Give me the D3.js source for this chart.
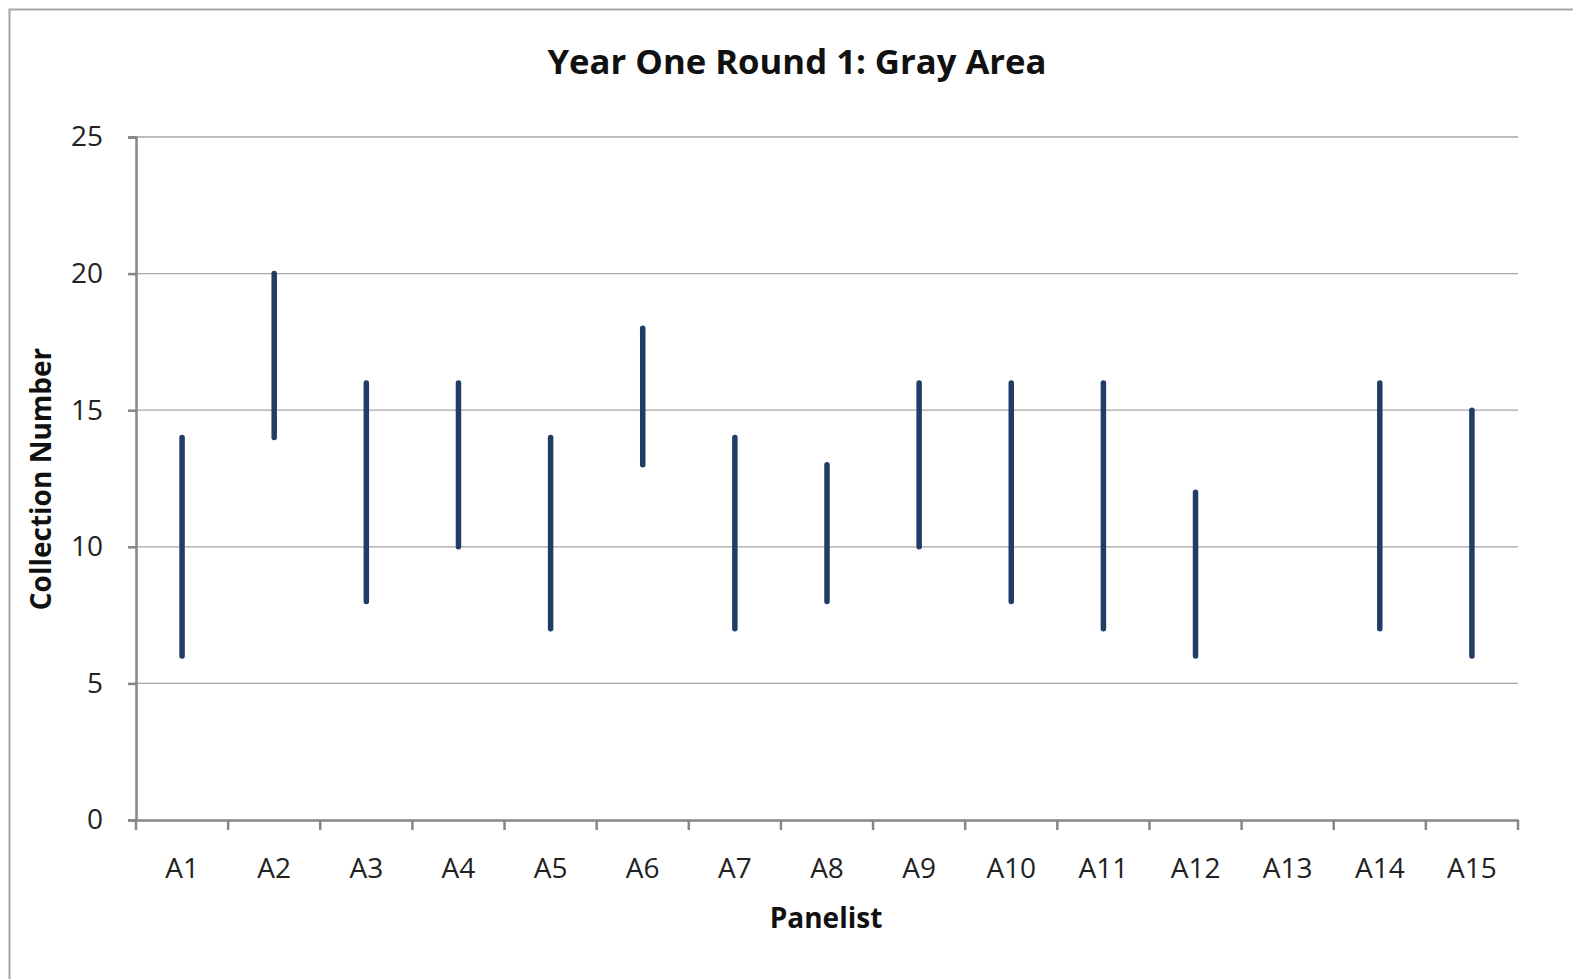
<!DOCTYPE html>
<html><head><meta charset="utf-8">
<script src="https://cdn.jsdelivr.net/npm/d3@7"></script>
<style>body{margin:0;background:#fff;font-family:"Open Sans",sans-serif}</style>
</head><body>
<svg id="c" width="1573" height="979"></svg>
<script>
const categories = ["A1","A2","A3","A4","A5","A6","A7","A8","A9","A10","A11","A12","A13","A14","A15"];
const lowValues  = [6, 14, 8, 10, 7, 13, 7, 8, 10, 8, 7, 6, null, 7, 6];
const highValues = [14, 20, 16, 16, 14, 18, 14, 13, 16, 16, 16, 12, null, 16, 15];
const yTicks = [0, 5, 10, 15, 20, 25];

const svg = d3.select("#c");
svg.append("rect").attr("x",9.5).attr("y",9.5).attr("width",1600).attr("height",1000)
  .attr("fill","#fff").attr("stroke","#a6a6a6").attr("stroke-width",2);

const m = {l:136, r:1518, t:137, b:820};
const x = d3.scaleBand().domain(categories).range([m.l, m.r]);
const y = d3.scaleLinear().domain([0,25]).range([m.b, m.t]);

// gridlines
svg.append("g").selectAll("line").data(yTicks.filter(d=>d>0)).join("line")
  .attr("x1",m.l).attr("x2",m.r).attr("y1",d=>y(d)).attr("y2",d=>y(d))
  .attr("stroke","#a6a6a6").attr("stroke-width",1.3);

// y axis
const ya = svg.append("g").attr("transform",`translate(${m.l},0)`)
  .call(d3.axisLeft(y).tickValues(yTicks).tickSize(8).tickPadding(25));
ya.select(".domain").attr("stroke","#868686").attr("stroke-width",2.5);
ya.selectAll(".tick line").attr("stroke","#868686").attr("stroke-width",2.5);
ya.selectAll("text").attr("font-family","Open Sans").attr("font-size",28).attr("fill","#222");

// x axis
const xa = svg.append("g").attr("transform",`translate(0,${m.b})`)
  .call(d3.axisBottom(x).tickSize(0).tickPadding(38));
xa.select(".domain").attr("stroke","#868686").attr("stroke-width",2.5);
xa.selectAll("text").attr("font-family","Open Sans").attr("font-size",28).attr("fill","#222");
const bounds = categories.map(c=>x(c)).concat([m.r]);
xa.append("g").selectAll("line").data(bounds).join("line")
  .attr("x1",d=>d).attr("x2",d=>d).attr("y1",0).attr("y2",10)
  .attr("stroke","#868686").attr("stroke-width",2.5);

// bars
const data = categories.map((c,i)=>({c, lo:lowValues[i], hi:highValues[i]})).filter(d=>d.lo!=null);
svg.append("g").selectAll("line").data(data).join("line")
  .attr("x1",d=>x(d.c)+x.bandwidth()/2).attr("x2",d=>x(d.c)+x.bandwidth()/2)
  .attr("y1",d=>y(d.lo)).attr("y2",d=>y(d.hi))
  .attr("stroke","#1f3d66").attr("stroke-width",5.5).attr("stroke-linecap","round");

// titles
svg.append("text").attr("x",797).attr("y",74).attr("text-anchor","middle")
  .attr("font-family","Open Sans").attr("font-weight","bold").attr("font-size",34.7).attr("fill","#111")
  .text("Year One Round 1: Gray Area");
svg.append("text").attr("x",826).attr("y",928).attr("text-anchor","middle")
  .attr("font-family","Open Sans").attr("font-weight","bold").attr("font-size",28).attr("fill","#111")
  .text("Panelist");
svg.append("text").attr("transform","translate(51,479) rotate(-90)").attr("text-anchor","middle")
  .attr("font-family","Open Sans").attr("font-weight","bold").attr("font-size",28).attr("fill","#111")
  .text("Collection Number");
</script>
</body></html>
